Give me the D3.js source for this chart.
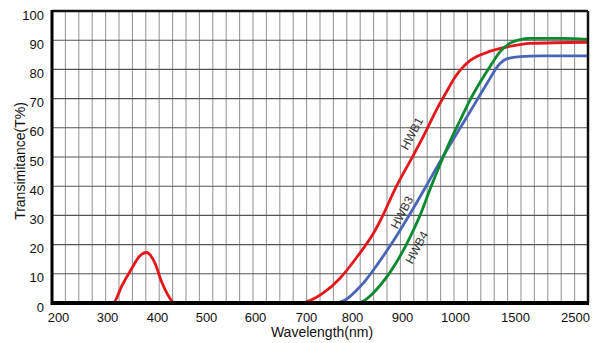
<!DOCTYPE html>
<html><head><meta charset="utf-8">
<script src="https://cdn.jsdelivr.net/npm/d3@7"></script>
<style>html,body{margin:0;padding:0;background:#fff;}svg{display:block;font-family:"Liberation Sans",Arial,sans-serif;}</style>
</head><body><svg id="c" width="600" height="343"></svg>
<script>
// x tick labels (nm) — the axis is piecewise
const xTicks = [200,300,400,500,600,700,800,900,1000,1500,2500];
const yTicks = [0,10,20,30,40,50,60,70,80,90,100];
// series: [wavelength nm, transmittance %]
const hwb1 = [[300,0],[312,0],[330,6],[350,12],[365,16],[379,17.3],[395,14],[410,7],[425,2],[435,0],[688,0],
  [737,3.4],[774,8.5],[811,16],[845,24.5],[856,28],[889,40],[921,50.5],[947,59.5],[966,66.5],[983,72],[1000,77.3],[1060,80.5],[1125,83],[1264,85.8],[1400,87.4],[1583,88.5],[1750,88.9],[2700,89.3]];
const hwb3 = [[767,0],[785,1],[810,4.5],[826,7.5],[852,13.5],[876,19.5],[915,30.5],[947,40.5],[972,48.5],[1000,57],[1125,65.5],[1264,75],[1375,82],[1431,83.6],[1583,84.4],[1917,84.6],[2700,84.6]];
const hwb4 = [[814,0],[826,1],[840,3],[856,6],[876,10.5],[896,16],[915,22.5],[934,30],[953,39],[972,47.5],[991,55.5],[1042,62.5],[1125,69.5],[1208,75.5],[1292,81],[1375,86],[1458,89],[1583,90.2],[1750,90.6],[2300,90.6],[2700,90.3]];
const labels = ["HWB1","HWB3","HWB4"];

const L=52, R=588, T=11, B=303;
const svg = d3.select("#c");
const x = d3.scaleLinear().domain(xTicks).range([58,107,157,206,255,306,352,402,455,515,575]);
const y = d3.scaleLinear().domain([0,100]).range([B,T]);
const gx = d3.scaleLinear().domain([0,40]).range([L,R]);

const g = svg.append("g");
g.selectAll(".vg").data(d3.range(1,40)).join("line")
  .attr("x1",d=>gx(d)).attr("x2",d=>gx(d)).attr("y1",T).attr("y2",B)
  .attr("stroke","#9a9a9a").attr("stroke-width",1.1);
g.selectAll(".hg").data(yTicks.slice(1,-1)).join("line")
  .attr("x1",L).attr("x2",R).attr("y1",d=>y(d)).attr("y2",d=>y(d))
  .attr("stroke","#555").attr("stroke-width",1.1);

svg.append("clipPath").attr("id","cp").append("rect").attr("x",L).attr("y",T-5).attr("width",R-L).attr("height",B-T+5);
const line = d3.line().x(d=>x(d[0])).y(d=>y(d[1])).curve(d3.curveMonotoneX);
const cg = svg.append("g").attr("clip-path","url(#cp)");
[[hwb1,"#e3171c"],[hwb3,"#4a64b8"],[hwb4,"#0b8a2f"]].forEach(([d,c])=>{
  cg.append("path").datum(d).attr("d",line).attr("fill","none").attr("stroke",c).attr("stroke-width",2.8).attr("stroke-linejoin","round");
});

// frame
svg.append("line").attr("x1",L).attr("x2",R).attr("y1",T).attr("y2",T).attr("stroke","#111").attr("stroke-width",2.5);
svg.append("line").attr("x1",R).attr("x2",R).attr("y1",T).attr("y2",B).attr("stroke","#111").attr("stroke-width",2.5);
svg.append("line").attr("x1",L).attr("x2",L).attr("y1",T-1).attr("y2",B+2).attr("stroke","#000").attr("stroke-width",3);
svg.append("line").attr("x1",L).attr("x2",R+1).attr("y1",B).attr("y2",B).attr("stroke","#000").attr("stroke-width",4);

const xa = svg.append("g").attr("transform",`translate(0,${B+2})`)
  .call(d3.axisBottom(x).tickValues(xTicks).tickSize(0).tickPadding(8).tickFormat(d3.format("d")));
xa.select(".domain").remove();
xa.selectAll("text").attr("font-size",13).attr("fill","#111").attr("font-family","Liberation Sans, Arial, sans-serif");
const ya = svg.append("g").attr("transform",`translate(${L-2},4)`)
  .call(d3.axisLeft(y).tickValues(yTicks).tickSize(0).tickPadding(6));
ya.select(".domain").remove();
ya.selectAll("text").attr("font-size",13).attr("fill","#111").attr("font-family","Liberation Sans, Arial, sans-serif");

svg.append("text").attr("x",322).attr("y",337).attr("text-anchor","middle").attr("font-size",14).attr("fill","#111").text("Wavelength(nm)");
svg.append("text").attr("transform","translate(25,161) rotate(-90)").attr("text-anchor","middle").attr("font-size",14).attr("fill","#111").text("Transimitance(T%)");

// curve labels (centre positions in data units)
const lp = [[919,58],[900,31],[928,19]];
labels.forEach((t,i)=>{
  svg.append("text").attr("transform",`translate(${x(lp[i][0])},${y(lp[i][1])}) rotate(-62)`)
    .attr("text-anchor","middle").attr("dominant-baseline","central").attr("font-size",12).attr("fill","#333").text(t);
});
</script></body></html>
